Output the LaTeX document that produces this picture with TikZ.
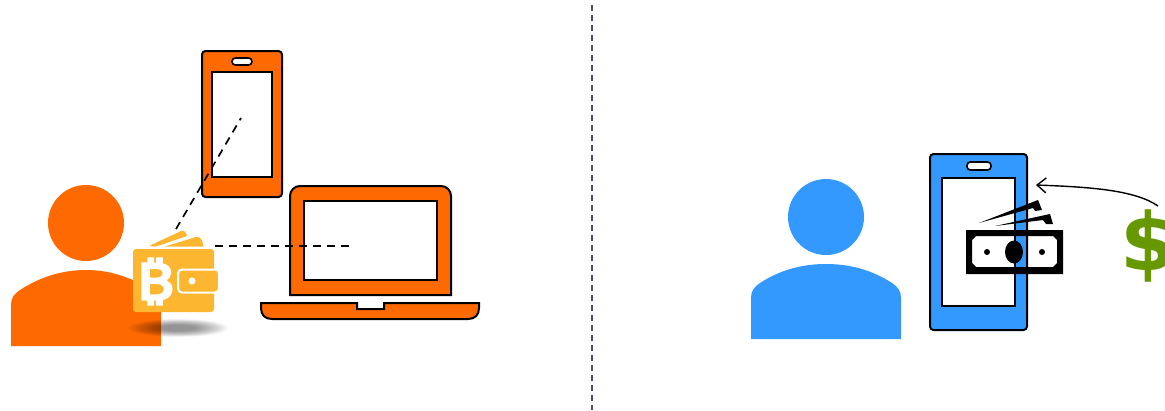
\documentclass[tikz,border=0pt]{standalone}
\usepackage{xcolor}
\usepackage{fontspec}
\setmainfont{DejaVu Sans}
\newfontfamily\symfont[FakeBold=5,FakeStretch=1.3]{Noto Sans}
\definecolor{WalletOrange}{HTML}{FF6A00}
\definecolor{PayBlue}{HTML}{3399FF}
\definecolor{CoinGold}{HTML}{FDB62F}
\definecolor{CashGreen}{HTML}{669900}
\definecolor{SplitSlate}{HTML}{4B4B6B}
\usetikzlibrary{arrows.meta,shapes.geometric}

\begin{document}
\begin{tikzpicture}[x=1pt,y=-1pt,>=Latex,
device/.style={draw=black,line width=2pt,rounded corners=3.5pt,inner sep=0pt},
screen/.style={draw=black,line width=2pt,fill=white,inner sep=0pt},
speaker/.style={draw=black,line width=1.6pt,fill=white,rounded corners=3.4pt,inner sep=0pt},
head/.style={circle,inner sep=0pt,minimum size=76pt},
link/.style={black,line width=1.7pt,dash pattern=on 8pt off 6pt}]
\useasboundingbox (0,0) rectangle (1165,410);
\fill[white] (0,0) rectangle (1165,410);

% split
\coordinate (splittop) at (592,5);
\coordinate (splitbottom) at (592,410);
\draw[SplitSlate,line width=1.3pt,dash pattern=on 6pt off 4pt] (splittop) -- (splitbottom);

% left person
\node[head,fill=WalletOrange] (payer) at (86,223) {};
\fill[WalletOrange] (11,346) -- (11,305) .. controls (11,298) and (14,294) .. (20,290) .. controls (40,277) and (62,270) .. (86,270) .. controls (110,270) and (132,277) .. (161,295) -- (161,346) -- cycle;
\foreach \r in {1,0.95,...,0.3}
  \fill[black,opacity=0.035] (178,328) ellipse ({50*\r} and {9*\r});

% left phone
\node[device,fill=WalletOrange,minimum width=80pt,minimum height=146pt] (phoneleft) at (242,124) {};
\node[screen,minimum width=60pt,minimum height=105pt] (screenleft) at (242,124.5) {};
\node[speaker,minimum width=20pt,minimum height=7pt] (speakerleft) at (242,61.5) {};

% laptop
\filldraw[WalletOrange,draw=black,line width=2pt] (290,295) [rounded corners=10pt] -- (290,186) -- (451,186) [sharp corners] -- (451,295) -- cycle;
\node[screen,minimum width=133pt,minimum height=79pt] (screenlaptop) at (370.5,240.5) {};
\filldraw[WalletOrange,draw=black,line width=2pt] (261,303) -- (357,303) -- (357,309) -- (384,309) -- (384,303) -- (479,303) -- (479,308) .. controls (479,315) and (475,319) .. (468,319) -- (272,319) .. controls (265,319) and (261,315) .. (261,308) -- cycle;

% wallet
\fill[CoinGold] (149,246) -- (181,231) .. controls (184,230) and (186,232) .. (187,236) -- (156,246.5) -- cycle;
\fill[CoinGold] (165,246.5) -- (196,237) .. controls (200,236) and (202,239) .. (203.5,246.5) -- cycle;
\node[fill=CoinGold,rounded corners=3pt,minimum width=81pt,minimum height=63pt,inner sep=0pt] (wallet) at (173.5,280.5) {};
\node[fill=CoinGold,draw=white,line width=2pt,rounded corners=4pt,minimum width=41pt,minimum height=23pt,inner sep=0pt] (clasp) at (198.5,281) {};
\node[circle,fill=white,minimum size=7pt,inner sep=0pt] (claspdot) at (192,281) {};
\node[text=white,inner sep=0pt,font=\symfont\fontsize{50}{50}\selectfont] (coin) at (155,281.5) {₿};

% wallet to devices
\coordinate (phonetarget) at (241,118);
\coordinate (laptoptarget) at (352,246);
\coordinate (linkphone) at (176,229);
\coordinate (linklaptop) at (215,246);
\draw[link] (linkphone) -- (phonetarget);
\draw[link] (linklaptop) -- (laptoptarget);

% right person
\node[head,fill=PayBlue] (payee) at (826,217) {};
\fill[PayBlue] (751,339) -- (751,298) .. controls (751,291) and (754,287) .. (760,283) .. controls (780,270) and (802,264) .. (826,264) .. controls (850,264) and (872,270) .. (892,283) .. controls (898,287) and (901,291) .. (901,298) -- (901,339) -- cycle;

% right phone
\node[device,fill=PayBlue,minimum width=97pt,minimum height=176pt] (phoneright) at (978.5,242) {};
\node[screen,minimum width=73pt,minimum height=128pt] (screenright) at (978.5,242) {};
\node[speaker,minimum width=24pt,minimum height=8pt] (speakerright) at (979,166) {};

% banknote
\fill[black,even odd rule] (966,230) rectangle (1063,274) (976,236) -- (1053,236) -- (1057,240) -- (1057,263) -- (1053,267) -- (976,267) -- (972,263) -- (972,240) -- cycle;
\fill[black] (979,223) -- (1038,200) -- (1042,210) -- (1035,211) -- (1033,208) -- cycle;
\fill[black] (995,226) -- (1050,214) -- (1053,224) -- (1046,224) -- (1043,220) -- cycle;
\node[ellipse,fill=black,minimum width=18pt,minimum height=23pt,inner sep=0pt] (cashcentre) at (1014,252) {};
\node[circle,fill=black,minimum size=6pt,inner sep=0pt] (cashdotleft) at (987,252) {};
\node[circle,fill=black,minimum size=6pt,inner sep=0pt] (cashdotright) at (1042,252) {};

% dollar
\node[text=CashGreen,inner sep=0pt,font=\bfseries\fontsize{80}{80}\selectfont] (dollar) at (1148,246) {\$};
\coordinate (dollartop) at (1158,206);
\coordinate (phoneedge) at (1036,185);
\draw[-{Straight Barb[length=9pt,width=15pt]},line width=1.4pt] (dollartop) .. controls (1135,190) and (1090,187) .. (phoneedge);
\end{tikzpicture}
\end{document}
